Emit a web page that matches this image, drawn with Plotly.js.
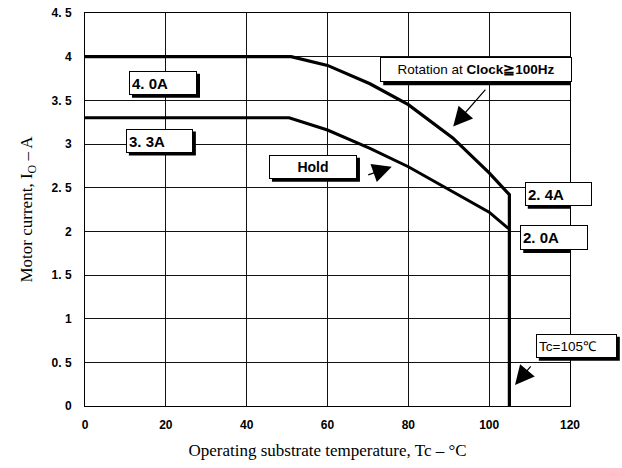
<!DOCTYPE html>
<html>
<head>
<meta charset="utf-8">
<script src="https://cdn.plot.ly/plotly-3.0.1.min.js"></script>
<style>html,body{margin:0;padding:0;background:#fff;}#chart{width:622px;height:468px;}</style>
</head>
<body>
<div id="chart"></div>
<script>
// Rotation at Clock >= 100Hz derating curve (Tc in °C, current in A)
const rotationTemp = [0, 51, 60, 70.5, 80, 91, 100, 105, 105];
const rotationCurrent = [4.0, 4.0, 3.9, 3.69, 3.45, 3.07, 2.67, 2.42, 0];
// Hold derating curve
const holdTemp = [0, 50.5, 60, 70.5, 80, 89, 100, 104.8];
const holdCurrent = [3.3, 3.3, 3.16, 2.95, 2.74, 2.51, 2.22, 2.03];

const xTickVals = [0, 20, 40, 60, 80, 100, 120];
const xTickText = ['0', '20', '40', '60', '80', '100', '120'];
const yTickVals = [0, 0.5, 1, 1.5, 2, 2.5, 3, 3.5, 4, 4.5];
const yTickText = ['0', '0. 5', '1', '1. 5', '2', '2. 5', '3', '3. 5', '4', '4. 5'];

// Label boxes: text, x (data, or paper when ref is 'paper'), y, box width/height in px
const labelTexts = ['<b>4. 0A</b>', '<b>3. 3A</b>', '<b>Hold</b>', 'Rotation at <b>Clock≧100Hz</b>', '<b>2. 4A</b>', '<b>2. 0A</b>', 'Tc=105℃'];
const labelX = [19.3, 18.4, 56.4, 96.8, 117.1, 116.1, 1.013];
const labelXRef = ['x', 'x', 'x', 'x', 'x', 'x', 'paper'];
const labelY = [3.70, 3.04, 2.74, 3.85, 2.43, 1.93, 0.69];
const labelW = [68, 67, 88, 192, 67, 68, 81];
const labelH = [24, 24, 24, 25, 24, 25, 24];
const labelAlign = ['left', 'left', 'center', 'center', 'left', 'left', 'left'];
const labelSize = [15, 15, 14, 13.5, 15, 15, 13.5];

// Arrows: head (x,y) and tail (ax,ay)
const arrowHeadX = [91.1, 75.9, 106.4];
const arrowHeadY = [3.20, 2.74, 0.24];
const arrowTailX = [99.4, 69.7, 110.6];
const arrowTailY = [3.64, 2.64, 0.47];

const annotations = [];
const shapes = [];
for (let i = 0; i < labelTexts.length; i++) {
  const w = labelW[i], h = labelH[i];
  // drop shadow (offset right & down)
  shapes.push({
    type: 'rect', layer: 'above', xref: labelXRef[i], yref: 'y',
    xsizemode: 'pixel', ysizemode: 'pixel', xanchor: labelX[i], yanchor: labelY[i],
    x0: -w / 2 + 3, x1: w / 2 + 3, y0: -h / 2 - 3, y1: h / 2 - 3,
    fillcolor: '#000', line: {width: 0}
  });
  annotations.push({
    xref: labelXRef[i], yref: 'y', x: labelX[i], y: labelY[i], text: labelTexts[i],
    xanchor: 'center', yanchor: 'middle',
    showarrow: false, width: w - 6, height: h - 6,
    align: labelAlign[i], valign: 'middle', bgcolor: '#fff', bordercolor: '#000', borderwidth: 1, borderpad: 2,
    font: {family: 'Liberation Sans, Arial, sans-serif', size: labelSize[i], color: '#000'}
  });
}
for (let i = 0; i < arrowHeadX.length; i++) {
  annotations.push({
    xref: 'x', yref: 'y', axref: 'x', ayref: 'y',
    x: arrowHeadX[i], y: arrowHeadY[i], ax: arrowTailX[i], ay: arrowTailY[i],
    text: '', showarrow: true, arrowhead: 2, arrowsize: 3.2, arrowwidth: 1.2, arrowcolor: '#000'
  });
}

const traces = [
  {x: rotationTemp, y: rotationCurrent, mode: 'lines', line: {color: '#000', width: 3.2}, name: 'Rotation', hoverinfo: 'x+y'},
  {x: holdTemp, y: holdCurrent, mode: 'lines', line: {color: '#000', width: 3}, name: 'Hold', hoverinfo: 'x+y'}
];

const tickFont = {family: 'Liberation Sans Narrow, Arial Narrow, Liberation Sans, sans-serif', size: 12, color: '#000', weight: 'bold'};

const layout = {
  width: 622, height: 468,
  margin: {l: 85, r: 52, t: 13, b: 62},
  paper_bgcolor: '#fff', plot_bgcolor: '#fff',
  showlegend: false,
  xaxis: {
    range: [0, 120], tickvals: xTickVals, ticktext: xTickText,
    showgrid: true, gridcolor: '#111', gridwidth: 1,
    showline: true, linecolor: '#000', linewidth: 1, mirror: true,
    zeroline: false, ticks: '', ticklabelstandoff: 8,
    tickfont: tickFont,
    title: {text: 'Operating substrate temperature, Tc – °C', font: {family: 'Liberation Serif, Times New Roman, serif', size: 17, color: '#000'}, standoff: 12}
  },
  yaxis: {
    range: [0, 4.5], tickvals: yTickVals, ticktext: yTickText,
    showgrid: true, gridcolor: '#111', gridwidth: 1,
    showline: true, linecolor: '#000', linewidth: 1, mirror: true,
    zeroline: false, ticks: '', ticklabelstandoff: 10,
    tickfont: tickFont,
    title: {text: 'Motor current, I<sub>O</sub> – A', font: {family: 'Liberation Serif, Times New Roman, serif', size: 17, color: '#000'}, standoff: 14}
  },
  shapes: shapes,
  annotations: annotations
};

Plotly.newPlot('chart', traces, layout, {displayModeBar: false, staticPlot: true});
</script>
</body>
</html>
